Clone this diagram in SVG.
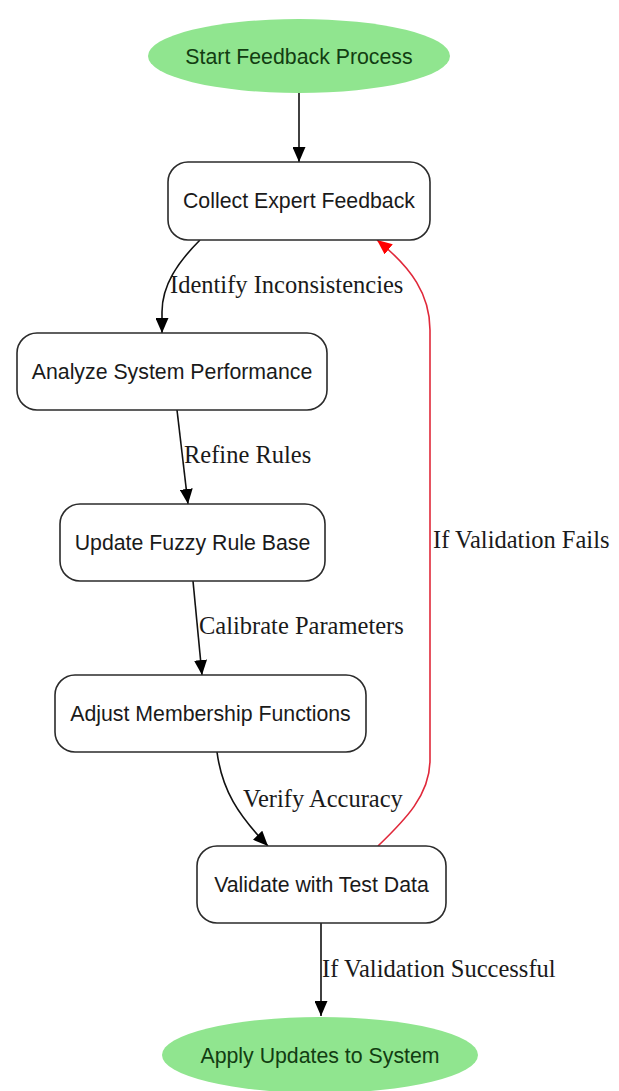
<svg xmlns="http://www.w3.org/2000/svg" width="619" height="1091" viewBox="0 0 619 1091">
<defs>
<style>
.box{fill:#ffffff;stroke:#2b2b2b;stroke-width:1.6}
.term{fill:#90e58f;stroke:none}
.nt{font-family:"Liberation Sans",Arial,sans-serif;font-size:21.3px;fill:#1a1a1a;text-anchor:middle}
.tt{font-family:"Liberation Sans",Arial,sans-serif;font-size:21.3px;fill:#123d12;text-anchor:middle}
.el{font-family:"Liberation Serif","Times New Roman",serif;font-size:24.5px;fill:#1a1a1a}
.e{fill:none;stroke:#111;stroke-width:1.6}
.er{fill:none;stroke:#e0283a;stroke-width:1.6}
</style>
<marker id="ab" markerUnits="userSpaceOnUse" markerWidth="16" markerHeight="13" refX="15" refY="6.5" orient="auto"><path d="M0,0 L15,6.5 L0,13 z" fill="#000"/></marker>
<marker id="ar" markerUnits="userSpaceOnUse" markerWidth="16" markerHeight="13" refX="15" refY="6.5" orient="auto"><path d="M0,0 L15,6.5 L0,13 z" fill="#ff0000"/></marker>
</defs>
<rect width="619" height="1091" fill="#ffffff"/>
<g id="connectors">
<path class="e" d="M299,93 L299,162" marker-end="url(#ab)"/>
<path class="e" d="M200,240 C178,262 162,285 162,312 L162,333" marker-end="url(#ab)"/>
<path class="e" d="M177,410 L188,504" marker-end="url(#ab)"/>
<path class="e" d="M193,581 L202,675" marker-end="url(#ab)"/>
<path class="e" d="M217,752 C222,790 238,815 268,846" marker-end="url(#ab)"/>
<path class="e" d="M321,923 L321,1016" marker-end="url(#ab)"/>
<path class="er" d="M378,846 C405,820 430,795 430,760 L430,330 C430,295 412,268 377,240" marker-end="url(#ar)"/>
<text class="el" x="170" y="293">Identify Inconsistencies</text>
<text class="el" x="184" y="463">Refine Rules</text>
<text class="el" x="199" y="634">Calibrate Parameters</text>
<text class="el" x="243" y="807">Verify Accuracy</text>
<text class="el" x="322" y="977">If Validation Successful</text>
<text class="el" x="433" y="548">If Validation Fails</text>
</g>
<g id="start"><ellipse class="term" cx="299" cy="56" rx="151" ry="37"/><text class="tt" x="299" y="63.5">Start Feedback Process</text></g>
<g id="collect"><rect class="box" x="168" y="162" width="262" height="78" rx="20"/><text class="nt" x="299" y="208">Collect Expert Feedback</text></g>
<g id="analyze"><rect class="box" x="17" y="333" width="310" height="77" rx="20"/><text class="nt" x="172" y="379">Analyze System Performance</text></g>
<g id="update"><rect class="box" x="60" y="504" width="265" height="77" rx="20"/><text class="nt" x="192.5" y="550">Update Fuzzy Rule Base</text></g>
<g id="adjust"><rect class="box" x="55" y="675" width="311" height="77" rx="20"/><text class="nt" x="210.5" y="721">Adjust Membership Functions</text></g>
<g id="validate"><rect class="box" x="197" y="846" width="249" height="77" rx="20"/><text class="nt" x="321.5" y="892">Validate with Test Data</text></g>
<g id="apply"><ellipse class="term" cx="320" cy="1055" rx="158" ry="38"/><text class="tt" x="320" y="1063">Apply Updates to System</text></g>
</svg>
